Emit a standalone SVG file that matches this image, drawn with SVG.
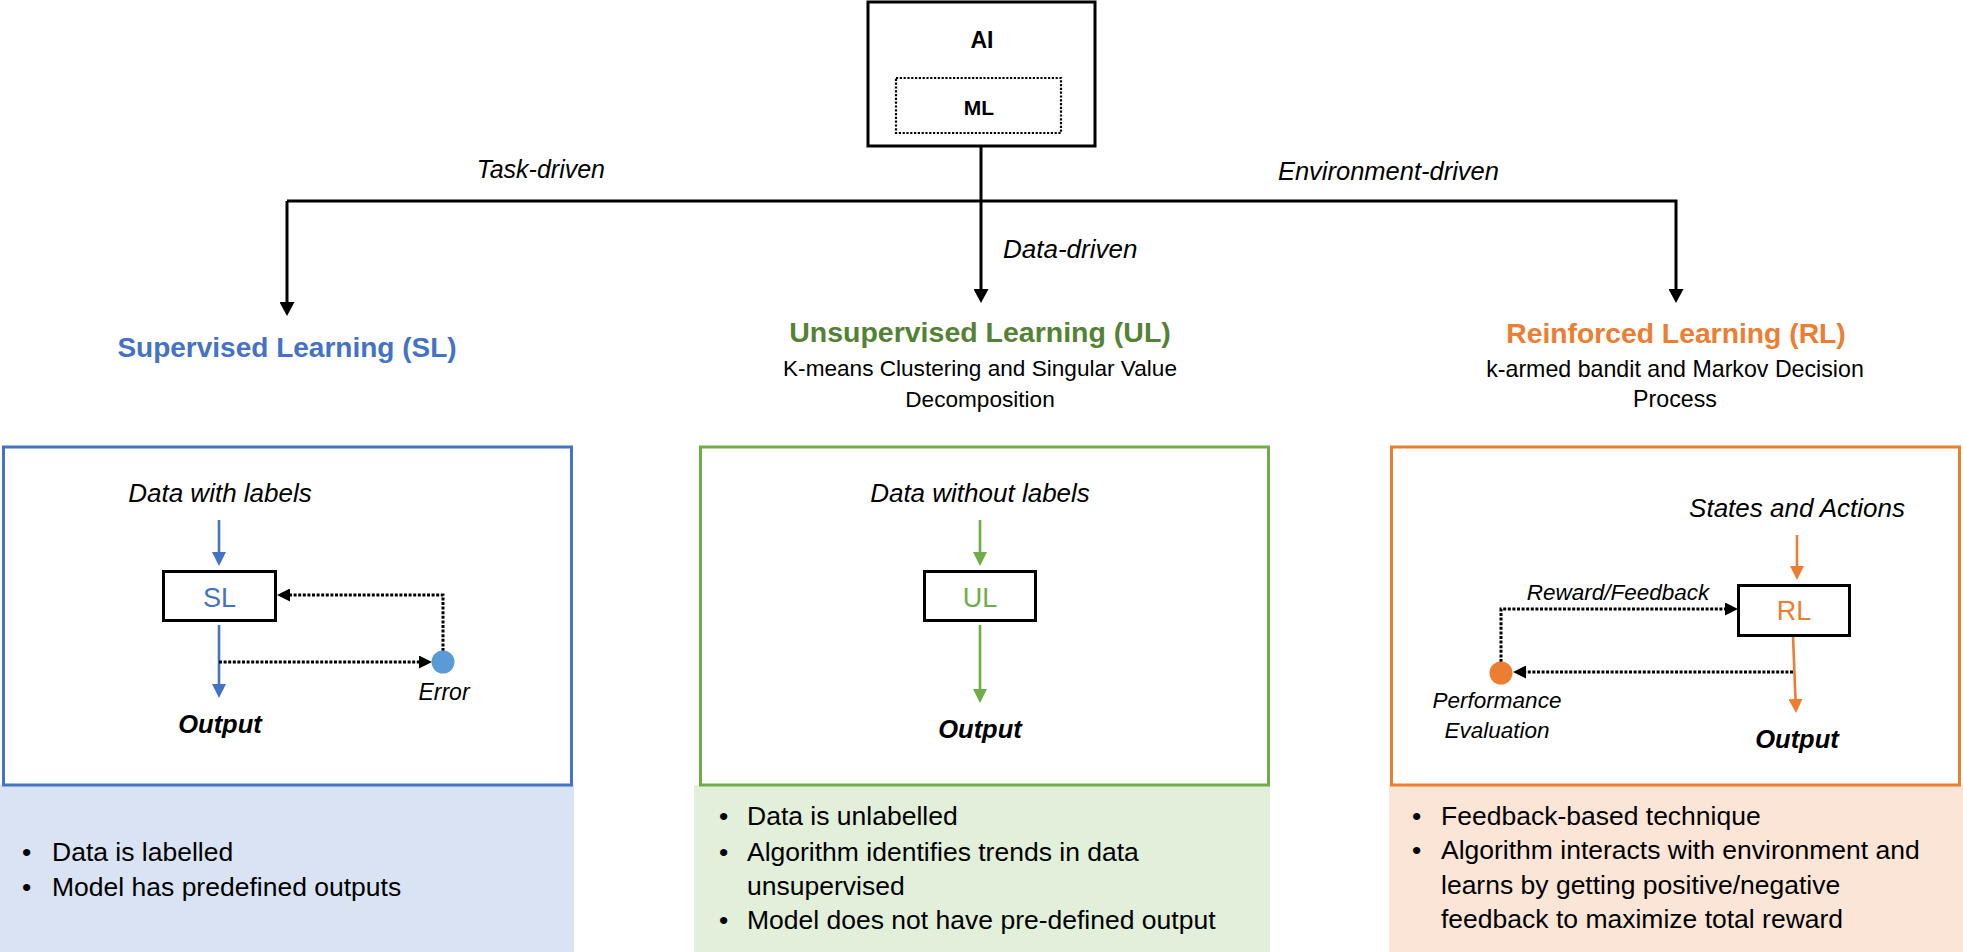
<svg xmlns="http://www.w3.org/2000/svg" width="1963" height="952" viewBox="0 0 1963 952">
<style>
text{font-family:"Liberation Sans",Arial,sans-serif;fill:#000}
.c{text-anchor:middle}
.it{font-style:italic}
.b{font-weight:bold}
.conn{fill:none;stroke:#000;stroke-width:3}
.dot{fill:none;stroke:#000;stroke-width:3;stroke-dasharray:3 1.6}
.blue{fill:none;stroke:#4472C4;stroke-width:2.6}
.green{fill:none;stroke:#70AD47;stroke-width:2.6}
.orange{fill:none;stroke:#ED7D31;stroke-width:2.6}
.inner{fill:#fff;stroke:#000;stroke-width:3}
.bul{font-size:26.5px}
.lab{font-size:26px;font-style:italic}
</style>
<defs>
<marker id="aBlack" markerUnits="userSpaceOnUse" markerWidth="14" markerHeight="15" viewBox="0 0 14 15" refX="0" refY="7.5" orient="auto"><path d="M0,0 L14,7.5 L0,15 z" fill="#000"/></marker>
<marker id="aDot" markerUnits="userSpaceOnUse" markerWidth="13" markerHeight="13" viewBox="0 0 13 13" refX="0" refY="6.5" orient="auto"><path d="M0,0 L13,6.5 L0,13 z" fill="#000"/></marker>
<marker id="aBlue" markerUnits="userSpaceOnUse" markerWidth="14" markerHeight="14" viewBox="0 0 14 14" refX="0" refY="7" orient="auto"><path d="M0,0 L14,7 L0,14 z" fill="#4472C4"/></marker>
<marker id="aGreen" markerUnits="userSpaceOnUse" markerWidth="14" markerHeight="14" viewBox="0 0 14 14" refX="0" refY="7" orient="auto"><path d="M0,0 L14,7 L0,14 z" fill="#70AD47"/></marker>
<marker id="aOrange" markerUnits="userSpaceOnUse" markerWidth="14" markerHeight="14" viewBox="0 0 14 14" refX="0" refY="7" orient="auto"><path d="M0,0 L14,7 L0,14 z" fill="#ED7D31"/></marker>
</defs>
<rect width="1963" height="952" fill="#fff"/>

<!-- bottom description panels -->
<g id="sl-notes">
<rect x="0" y="785" width="574" height="167" fill="#DAE3F3"/>
<text class="bul" x="22" y="861">•</text><text class="bul" x="52" y="861">Data is labelled</text>
<text class="bul" x="22" y="896">•</text><text class="bul" x="52" y="896">Model has predefined outputs</text>
</g>
<g id="ul-notes">
<rect x="694" y="785" width="576" height="167" fill="#E2EFDA"/>
<text class="bul" x="719" y="825">•</text><text class="bul" x="747" y="825">Data is unlabelled</text>
<text class="bul" x="719" y="861">•</text><text class="bul" x="747" y="861">Algorithm identifies trends in data</text>
<text class="bul" x="747" y="895">unsupervised</text>
<text class="bul" x="719" y="929">•</text><text class="bul" x="747" y="929">Model does not have pre-defined output</text>
</g>
<g id="rl-notes">
<rect x="1389" y="785" width="574" height="167" fill="#FBE5D6"/>
<text class="bul" x="1412" y="825">•</text><text class="bul" x="1441" y="825">Feedback-based technique</text>
<text class="bul" x="1412" y="859">•</text><text class="bul" x="1441" y="859">Algorithm interacts with environment and</text>
<text class="bul" x="1441" y="894">learns by getting positive/negative</text>
<text class="bul" x="1441" y="928">feedback to maximize total reward</text>
</g>

<!-- top node -->
<g id="ai">
<rect x="868" y="2" width="227" height="144" fill="#fff" stroke="#000" stroke-width="3"/>
<text class="c b" x="982" y="48" font-size="23">AI</text>
<rect id="ml" x="896" y="78" width="165" height="55" fill="none" stroke="#000" stroke-width="2.2" stroke-dasharray="2.2 1.6"/>
<text class="c b" x="979" y="115" font-size="21">ML</text>
</g>

<!-- main connectors -->
<g id="connectors">
<path class="conn" d="M981,146 V201"/>
<path class="conn" d="M287,201 H1676 V289" marker-end="url(#aBlack)"/>
<path class="conn" d="M287,201 V302" marker-end="url(#aBlack)"/>
<path class="conn" d="M981,201 V289" marker-end="url(#aBlack)"/>
<text class="it" x="605" y="178" font-size="25" text-anchor="end">Task-driven</text>
<text class="it" x="1499" y="180" font-size="25.5" text-anchor="end">Environment-driven</text>
<text class="it" x="1003" y="258" font-size="26">Data-driven</text>
</g>

<!-- category titles -->
<g id="sl-title">
<text class="c b" x="287" y="357" font-size="28" style="fill:#4472C4">Supervised Learning (SL)</text>
</g>
<g id="ul-title">
<text class="c b" x="980" y="342" font-size="28.5" style="fill:#548235">Unsupervised Learning (UL)</text>
<text class="c" x="980" y="376" font-size="22.6">K-means Clustering and Singular Value</text>
<text class="c" x="980" y="407" font-size="22.6">Decomposition</text>
</g>
<g id="rl-title">
<text class="c b" x="1676" y="343" font-size="28.3" style="fill:#ED7D31">Reinforced Learning (RL)</text>
<text class="c" x="1675" y="377" font-size="23.2">k-armed bandit and Markov Decision</text>
<text class="c" x="1675" y="407" font-size="23.2">Process</text>
</g>

<!-- SL panel -->
<g id="sl-panel">
<rect x="3.5" y="447" width="568" height="338" fill="none" stroke="#4472C4" stroke-width="3"/>
<text class="c lab" x="220" y="502">Data with labels</text>
<path class="blue" d="M219,520 V552" marker-end="url(#aBlue)"/>
<path class="blue" d="M219,625 V684" marker-end="url(#aBlue)"/>
<path class="dot" d="M219,662 H419" marker-end="url(#aDot)"/>
<path class="dot" d="M443,651 V595 H290" marker-end="url(#aDot)"/>
<g id="sl-node">
<rect class="inner" x="163.5" y="571.5" width="112" height="49"/>
<text class="c" x="219.5" y="607" font-size="27" style="fill:#4472C4">SL</text>
</g>
<circle id="sl-error" cx="443" cy="662" r="11.5" fill="#5B9BD5"/>
<text class="c it" x="444" y="700" font-size="23">Error</text>
<text class="c b it" x="220" y="733" font-size="25.5">Output</text>
</g>

<!-- UL panel -->
<g id="ul-panel">
<rect x="700.5" y="447" width="568" height="338" fill="none" stroke="#70AD47" stroke-width="3"/>
<text class="c lab" x="980" y="502">Data without labels</text>
<path class="green" d="M980,520 V552" marker-end="url(#aGreen)"/>
<path class="green" d="M980,625 V689" marker-end="url(#aGreen)"/>
<g id="ul-node">
<rect class="inner" x="924.5" y="571.5" width="111" height="49"/>
<text class="c" x="980" y="607" font-size="27" style="fill:#70AD47">UL</text>
</g>
<text class="c b it" x="980" y="738" font-size="25.5">Output</text>
</g>

<!-- RL panel -->
<g id="rl-panel">
<rect x="1391.5" y="447" width="568" height="338" fill="none" stroke="#ED7D31" stroke-width="3"/>
<text class="c lab" x="1797" y="517">States and Actions</text>
<path class="orange" d="M1797,535 V566" marker-end="url(#aOrange)"/>
<path class="orange" d="M1793,636 L1795.5,699" marker-end="url(#aOrange)"/>
<path class="dot" d="M1793,672 H1526" marker-end="url(#aDot)"/>
<path class="dot" d="M1501,662 V609 H1725" marker-end="url(#aDot)"/>
<g id="rl-node">
<rect class="inner" x="1738.5" y="585.5" width="111" height="50"/>
<text class="c" x="1794" y="620" font-size="27" style="fill:#ED7D31">RL</text>
</g>
<circle id="rl-eval" cx="1501" cy="673" r="11.5" fill="#ED7D31"/>
<text class="c it" x="1618" y="600" font-size="22.5">Reward/Feedback</text>
<text class="c it" x="1497" y="708" font-size="22.5">Performance</text>
<text class="c it" x="1497" y="738" font-size="22.5">Evaluation</text>
<text class="c b it" x="1797" y="748" font-size="25.5">Output</text>
</g>
</svg>
